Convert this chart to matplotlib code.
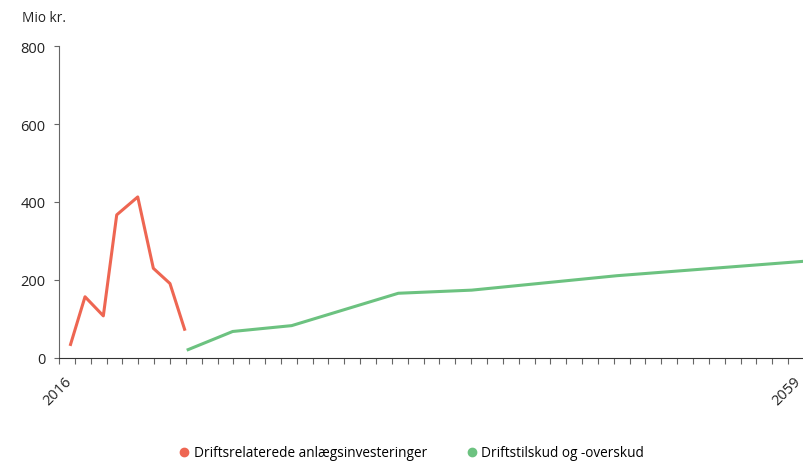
import numpy as np
import matplotlib.pyplot as plt
from matplotlib.lines import Line2D

plt.rcParams['font.family'] = ['Open Sans', 'DejaVu Sans']

# data (x in years, y in mio kr.)
anlaeg_aar = [2015.71, 2016.59, 2017.67, 2018.46, 2019.70, 2020.62, 2021.60, 2022.49]
anlaeg_vaerdi = [31, 157, 108, 367, 413, 230, 191, 70]

drift_aar = [2022.59, 2025.30, 2028.78, 2035.07, 2039.40, 2047.96, 2059.0]
drift_vaerdi = [20, 68, 83, 166, 174, 211, 248]

x_start = 2015.056
x_slut = 2059
n_ticks = 48
tick_tekster = {1: "2016", 47: "2059"}

rod = "#ee6652"
gron = "#6cc280"

fig = plt.figure(figsize=(8.04, 4.64), dpi=100)
ax = fig.add_axes([0.0734, 0.2263, 0.9266, 0.6724])

ax.plot(anlaeg_aar, anlaeg_vaerdi, color=rod, lw=2.2, solid_capstyle='butt')
ax.plot(drift_aar, drift_vaerdi, color=gron, lw=2.2, solid_capstyle='butt')

ax.set_xlim(x_start, x_slut)
ax.set_ylim(0, 800)
ax.set_yticks([0, 200, 400, 600, 800])

ticks = np.linspace(x_start, x_slut, n_ticks)
ax.set_xticks(ticks)
ax.set_xticklabels([])
# aarstal sat som tekst ved de to ticks, forskudt som i originalen
for i, tekst in tick_tekster.items():
    ax.annotate(tekst, xy=(ticks[i], 0), xycoords=ax.get_xaxis_transform(),
                xytext=(-7.5, -11), textcoords='offset points',
                rotation=45, ha='right', va='top', rotation_mode='anchor',
                fontsize=10.5, color='#222222', annotation_clip=False)

for s in ['top', 'right']:
    ax.spines[s].set_visible(False)
ax.spines['left'].set_color('#666666')
ax.spines['bottom'].set_color('#333333')
ax.tick_params(axis='y', length=3.6, color='#666666', labelsize=10.5, pad=6, labelcolor='#222222')
ax.tick_params(axis='x', length=4, color='#666666')

fig.text(22 / 804, 1 - 18 / 464, "Mio kr.", fontsize=9.8, va='center', ha='left', color='#222222')

handles = [
    Line2D([], [], marker='o', ls='', color=rod, markersize=6),
    Line2D([], [], marker='o', ls='', color=gron, markersize=6),
]
fig.legend(handles, ["Driftsrelaterede anlægsinvesteringer", "Driftstilskud og -overskud"],
           loc='center left', bbox_to_anchor=(0.212, 0.022), ncol=2, frameon=False,
           fontsize=9.8, handlelength=1.0, handletextpad=0.2, columnspacing=2.8,
           borderpad=0.0)

fig.savefig("out.png", dpi=100)
